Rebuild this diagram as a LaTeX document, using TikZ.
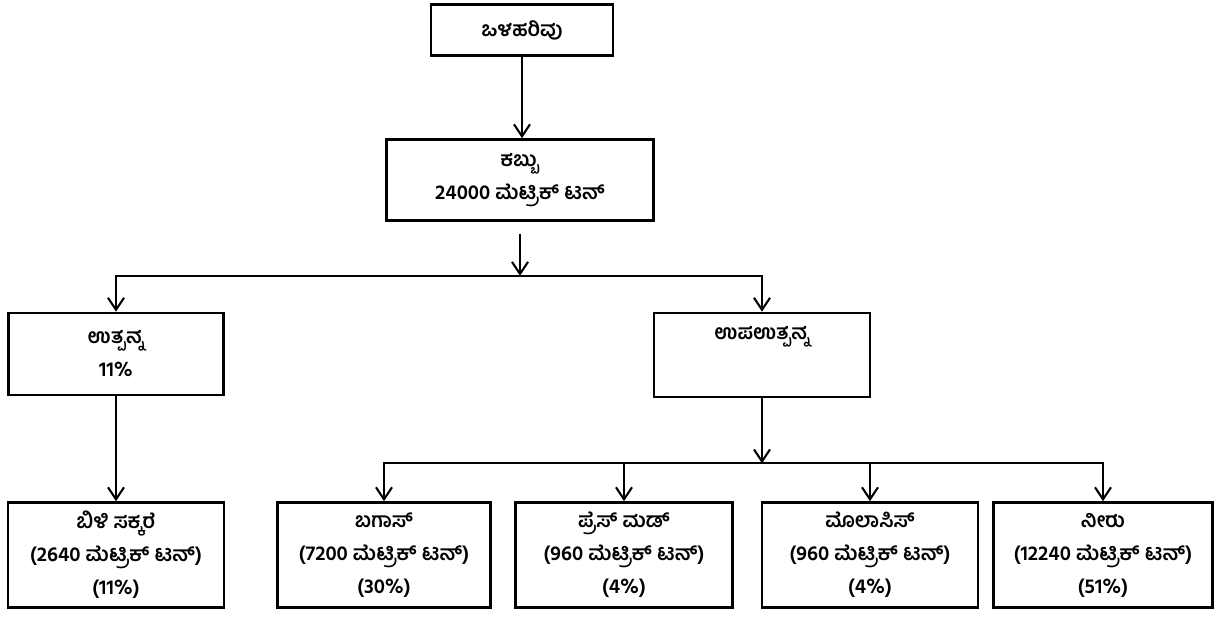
\documentclass[tikz,border=0pt]{standalone}
\usepackage{fontspec}
\newfontfamily\kn[Script=Kannada]{Hind Mysuru}
\usetikzlibrary{arrows.meta,calc}
\begin{document}
\begin{tikzpicture}[x=1pt,y=-1pt,
  box/.style={draw,line width=2.6pt,align=center,inner sep=0pt,font=\kn\bfseries\fontsize{20.5}{33}\selectfont},
  arr/.style={line width=2.1pt,-{Straight Barb[length=12pt,width=16pt,line width=2.1pt]}}]
\useasboundingbox (0,0) rectangle (1221,619);
\node[box,minimum width=182,minimum height=51] (inflow) at (522,30) {ಒಳಹರಿವು};
\node[box,minimum width=267,minimum height=81] (cane) at (520,180) {ಕಬ್ಬು\\24000 ಮೆಟ್ರಿಕ್ ಟನ್};
\node[box,minimum width=215,minimum height=82] (product) at (116,354) {ಉತ್ಪನ್ನ\\11\%};
\node[box,minimum width=216,minimum height=84,text depth=44pt] (byproduct) at (762,355) {ಉಪಉತ್ಪನ್ನ};
\foreach \nm/\cx/\bw/\txt in {sugar/116/216/{ಬಿಳಿ ಸಕ್ಕರೆ\\(2640 ಮೆಟ್ರಿಕ್ ಟನ್)\\(11\%)},
  bagasse/384/213/{ಬಗಾಸ್\\(7200 ಮೆಟ್ರಿಕ್ ಟನ್)\\(30\%)},
  pressmud/624/217/{ಪ್ರೆಸ್ ಮಡ್\\(960 ಮೆಟ್ರಿಕ್ ಟನ್)\\(4\%)},
  molasses/870/216/{ಮೊಲಾಸಿಸ್\\(960 ಮೆಟ್ರಿಕ್ ಟನ್)\\(4\%)},
  water/1103/219/{ನೀರು\\(12240 ಮೆಟ್ರಿಕ್ ಟನ್)\\(51\%)}}
  {\node[box,minimum width=\bw,minimum height=105] (\nm) at (\cx,555) {\txt};}
\draw[arr] (inflow.south) -- (inflow.south |- cane.north);
\coordinate (tap) at ($(cane.south)+(0,12)$);
\coordinate (split) at ($(cane.south)+(0,54)$);
\draw[arr] (tap) -- (split);
\draw[arr] (split) -| (product.north);
\draw[arr] (split) -| (byproduct.north);
\draw[arr] (product.south) -- (sugar.north);
\coordinate (split2) at ($(byproduct.south)+(0,65)$);
\draw[arr] (byproduct.south) -- (split2);
\foreach \nm in {bagasse,pressmud,molasses,water}
  \draw[arr] (split2) -| (\nm.north);
\end{tikzpicture}
\end{document}
